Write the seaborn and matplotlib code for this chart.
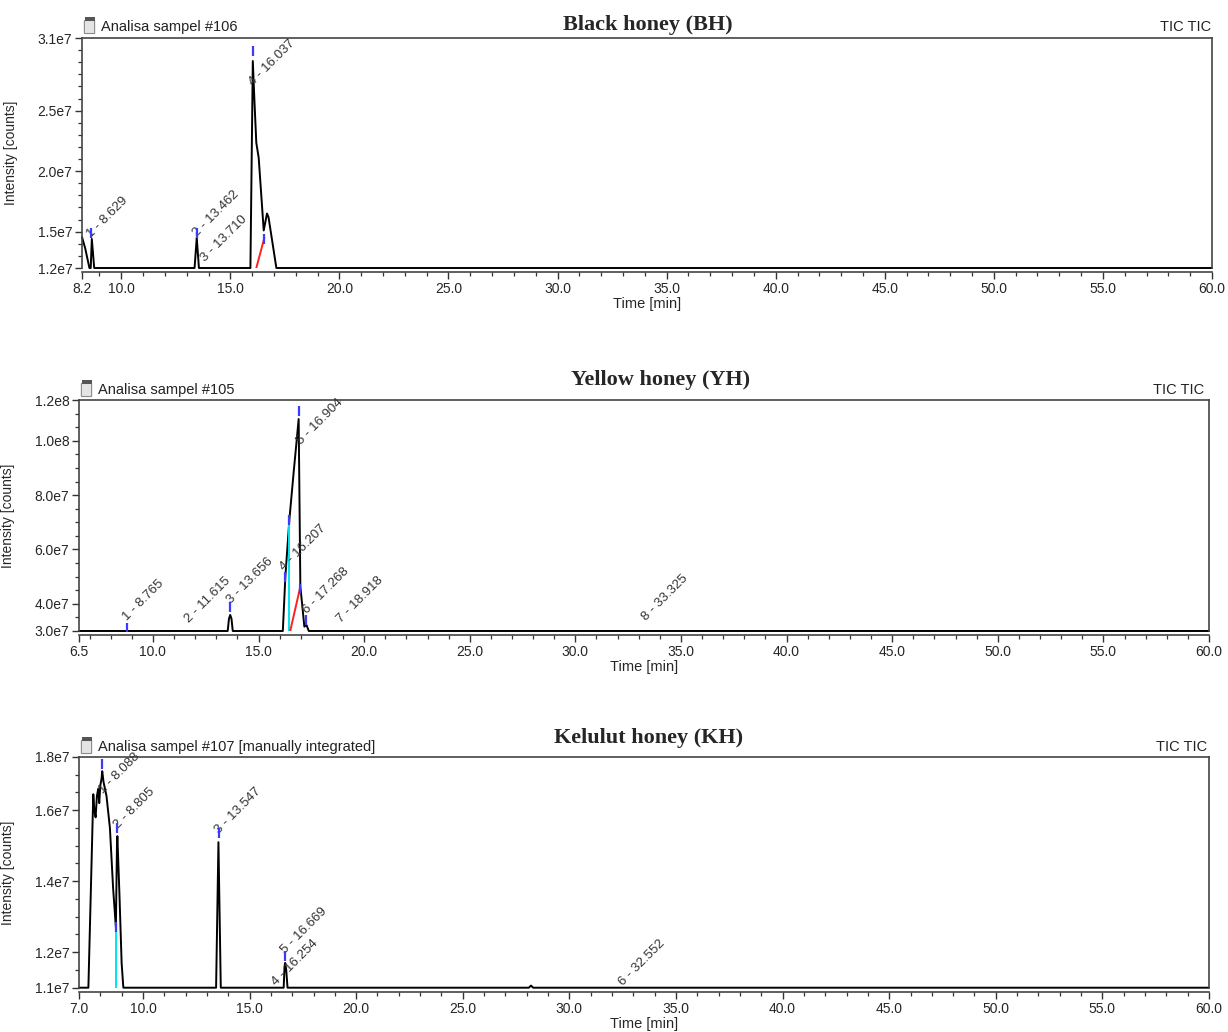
import numpy as np
import pandas as pd
import matplotlib
matplotlib.use("Agg")
import matplotlib.pyplot as plt
import seaborn as sns
from matplotlib.ticker import FixedLocator, MultipleLocator
from matplotlib.patches import FancyBboxPatch, Rectangle

# ---------------- Black honey (BH) ----------------
bh_time = [8.2, 8.35, 8.54, 8.6, 8.65, 8.76, 13.36, 13.46, 13.56,
           15.92, 16.03, 16.1, 16.19, 16.3, 16.53, 16.68, 16.75, 17.11, 60.0]
bh_signal = [1.456e7, 1.36e7, 1.2e7, 1.2e7, 1.44e7, 1.2e7, 1.2e7, 1.45e7, 1.2e7,
             1.2e7, 2.91e7, 2.6e7, 2.235e7, 2.11e7, 1.51e7, 1.65e7, 1.62e7, 1.2e7, 1.2e7]
bh_names = ["1 - 8.629", "2 - 13.462", "3 - 13.710", "4 - 16.037"]
bh_label_time = [8.73, 13.55, 13.93, 16.15]
bh_label_signal = [1.43e7, 1.44e7, 1.23e7, 2.69e7]
bh_mark_time = [8.629, 13.462, 16.037, 16.56]
bh_mark_signal = [1.49e7, 1.49e7, 2.99e7, 1.44e7]
bh_red_time = [16.19, 16.56]
bh_red_signal = [1.2e7, 1.45e7]
bh_yticks = [1.2e7, 1.5e7, 2.0e7, 2.5e7, 3.1e7]
bh_yticklabels = ["1.2e7", "1.5e7", "2.0e7", "2.5e7", "3.1e7"]
bh_xticks = [8.2, 10.0, 15.0, 20.0, 25.0, 30.0, 35.0, 40.0, 45.0, 50.0, 55.0, 60.0]

# ---------------- Yellow honey (YH) ----------------
yh_time = [6.5, 13.54, 13.6, 13.66, 13.72, 13.78, 16.15, 16.27, 16.46, 16.67,
           16.78, 16.9, 16.98, 17.17, 17.27, 17.38, 60.0]
yh_signal = [3.0e7, 3.0e7, 3.45e7, 3.59e7, 3.45e7, 3.0e7, 3.0e7, 5.0e7, 7.1e7, 8.9e7,
             9.8e7, 1.08e8, 4.64e7, 3.16e7, 3.22e7, 3.0e7, 3.0e7]
yh_names = ["1 - 8.765", "2 - 11.615", "3 - 13.656", "4 - 16.207",
            "5 - 16.904", "6 - 17.268", "7 - 18.918", "8 - 33.325"]
yh_label_time = [8.88, 11.8, 13.78, 16.3, 17.09, 17.41, 18.99, 33.45]
yh_label_signal = [3.29e7, 3.22e7, 3.9e7, 5.14e7, 9.77e7, 3.53e7, 3.22e7, 3.29e7]
yh_mark_time = [8.765, 13.656, 16.904, 16.43, 16.25, 16.97, 17.27]
yh_mark_signal = [3.12e7, 3.9e7, 1.11e8, 7.1e7, 5.0e7, 4.55e7, 3.4e7]
yh_cyan_time = [16.43, 16.43]
yh_cyan_signal = [3.0e7, 7.0e7]
yh_red_time = [16.5, 16.97]
yh_red_signal = [3.0e7, 4.6e7]
yh_yticks = [3.0e7, 4.0e7, 6.0e7, 8.0e7, 1.0e8, 1.15e8]
yh_yticklabels = ["3.0e7", "4.0e7", "6.0e7", "8.0e7", "1.0e8", "1.2e8"]
yh_xticks = [6.5, 10.0, 15.0, 20.0, 25.0, 30.0, 35.0, 40.0, 45.0, 50.0, 55.0, 60.0]

# ---------------- Kelulut honey (KH) ----------------
kh_time = [7.0, 7.44, 7.67, 7.72, 7.78, 7.84, 7.9, 7.95, 8.0, 8.06, 8.09, 8.15,
           8.29, 8.45, 8.6, 8.73, 8.78, 8.8, 8.9, 9.0, 9.08, 13.43, 13.54, 13.65,
           16.6, 16.64, 16.67, 16.72, 16.78, 28.1, 28.2, 28.3, 60.0]
kh_signal = [1.1e7, 1.1e7, 1.645e7, 1.6e7, 1.58e7, 1.64e7, 1.66e7, 1.62e7, 1.67e7,
             1.69e7, 1.71e7, 1.68e7, 1.64e7, 1.55e7, 1.38e7, 1.27e7, 1.5e7, 1.527e7,
             1.357e7, 1.169e7, 1.1e7, 1.1e7, 1.51e7, 1.1e7,
             1.1e7, 1.16e7, 1.17e7, 1.15e7, 1.1e7, 1.1e7, 1.106e7, 1.1e7, 1.1e7]
kh_names = ["1 - 8.088", "2 - 8.805", "3 - 13.547", "4 - 16.254", "5 - 16.669", "6 - 32.552"]
kh_label_time = [8.22, 8.92, 13.65, 16.36, 16.75, 32.63]
kh_label_signal = [1.64e7, 1.54e7, 1.527e7, 1.098e7, 1.19e7, 1.098e7]
kh_mark_time = [8.088, 8.805, 13.547, 16.669, 8.72]
kh_mark_signal = [1.73e7, 1.55e7, 1.535e7, 1.19e7, 1.27e7]
kh_cyan_time = [8.72, 8.72]
kh_cyan_signal = [1.1e7, 1.26e7]
kh_yticks = [1.1e7, 1.2e7, 1.4e7, 1.6e7, 1.75e7]
kh_yticklabels = ["1.1e7", "1.2e7", "1.4e7", "1.6e7", "1.8e7"]
kh_xticks = [7.0, 10.0, 15.0, 20.0, 25.0, 30.0, 35.0, 40.0, 45.0, 50.0, 55.0, 60.0]

W, H = 1228, 1032


def draw_vial(fig, x_px, y_px):
    # little sample-vial icon next to the sample name
    x0, y0 = x_px / W, 1 - y_px / H
    body = FancyBboxPatch((x0, y0 - 13 / H), 9 / W, 12 / H, boxstyle="round,pad=0.0005",
                          transform=fig.transFigure, facecolor="#e4e4e4",
                          edgecolor="#8a8a8a", linewidth=0.8)
    cap = Rectangle((x0 - 0.5 / W, y0 - 1 / H), 10 / W, 4 / H, transform=fig.transFigure,
                    facecolor="#555555", edgecolor="none")
    fig.patches.extend([body, cap])


def draw_panel(fig, rect, time, signal, names, lab_t, lab_s, mark_t, mark_s,
               xticks, yticks, yticklabels, ylim, yminor, extra):
    ax = fig.add_axes(rect)
    df = pd.DataFrame({"Time": time, "Signal": signal})
    sns.lineplot(data=df, x="Time", y="Signal", ax=ax, color="black", linewidth=1.4,
                 estimator=None, sort=False)
    ax.lines[-1].set_clip_on(False)
    for (et, es, col) in extra:
        sns.lineplot(x=et, y=es, ax=ax, color=col, linewidth=1.4, estimator=None, sort=False)
    sns.scatterplot(x=mark_t, y=mark_s, ax=ax, marker="|", s=55, color="#3b3bff",
                    linewidth=1.6, zorder=5)
    for name, lt, ls in zip(names, lab_t, lab_s):
        ax.text(lt, ls, name, rotation=45, rotation_mode="anchor", ha="left",
                va="bottom", fontsize=9.5, color="#333333")

    ax.set_xlim(xticks[0], 60.0)
    ax.set_ylim(*ylim)
    ax.xaxis.set_major_locator(FixedLocator(xticks))
    ax.set_xticklabels([f"{t:.1f}" for t in xticks])
    ax.xaxis.set_minor_locator(MultipleLocator(1.0))
    ax.yaxis.set_major_locator(FixedLocator(yticks))
    ax.set_yticklabels(yticklabels)
    ax.yaxis.set_minor_locator(MultipleLocator(yminor))
    ax.tick_params(which="major", length=5, width=1.0, color="#333333", labelsize=10,
                   pad=2)
    ax.tick_params(which="minor", length=3, width=0.9, color="#333333")
    for side in ["left", "right", "top", "bottom"]:
        ax.spines[side].set_visible(True)
        ax.spines[side].set_color("#444444")
        ax.spines[side].set_linewidth(1.2)
    ax.spines["bottom"].set_position(("outward", 3))
    ax.set_xlabel("Time [min]", fontsize=10.5, labelpad=1)
    ax.set_ylabel("Intensity [counts]", fontsize=10)
    ax.yaxis.set_label_coords(-64 / 1130, 0.5)
    return ax


def chromatograms():
    sns.set_theme(style="ticks")
    plt.rcParams["font.family"] = ["Liberation Sans", "DejaVu Sans"]

    fig = plt.figure(figsize=(W / 100, H / 100), dpi=100)

    draw_panel(fig, [82 / W, 1 - 268 / H, 1130 / W, 230 / H], bh_time, bh_signal,
               bh_names, bh_label_time, bh_label_signal, bh_mark_time, bh_mark_signal,
               bh_xticks, bh_yticks, bh_yticklabels, (1.2e7, 3.1e7), 1e6,
               [(bh_red_time, bh_red_signal, "#ff2020")])
    draw_panel(fig, [79 / W, 1 - 631 / H, 1130 / W, 231 / H], yh_time, yh_signal,
               yh_names, yh_label_time, yh_label_signal, yh_mark_time, yh_mark_signal,
               yh_xticks, yh_yticks, yh_yticklabels, (3.0e7, 1.15e8), 5e6,
               [(yh_cyan_time, yh_cyan_signal, "#00e5ee"),
                (yh_red_time, yh_red_signal, "#ff2020")])
    draw_panel(fig, [79 / W, 1 - 987.7 / H, 1130 / W, 230.7 / H], kh_time, kh_signal,
               kh_names, kh_label_time, kh_label_signal, kh_mark_time, kh_mark_signal,
               kh_xticks, kh_yticks, kh_yticklabels, (1.1e7, 1.75e7), 5e5,
               [(kh_cyan_time, kh_cyan_signal, "#00e5ee")])

    titles = ["Black honey (BH)", "Yellow honey (YH)", "Kelulut honey (KH)"]
    title_x = [648, 661, 649]
    title_y = [25, 380, 738]
    samples = ["Analisa sampel #106", "Analisa sampel #105",
               "Analisa sampel #107 [manually integrated]"]
    sample_x = [101, 98, 98]
    sample_y = [27, 390, 747]
    tic_x = [1211, 1204, 1207]
    for i in range(3):
        fig.text(title_x[i] / W, 1 - title_y[i] / H, titles[i], ha="center", va="center",
                 fontsize=16, fontweight="bold", family="Liberation Serif")
        fig.text(sample_x[i] / W, 1 - sample_y[i] / H, samples[i], ha="left",
                 va="center", fontsize=10.5, color="#222222")
        fig.text(tic_x[i] / W, 1 - sample_y[i] / H, "TIC TIC", ha="right", va="center",
                 fontsize=10.5, color="#222222")
        draw_vial(fig, sample_x[i] - 16, sample_y[i] - 7)

    fig.savefig("out.png", dpi=100)


def main():
    chromatograms()


if __name__ == "__main__":
    main()
